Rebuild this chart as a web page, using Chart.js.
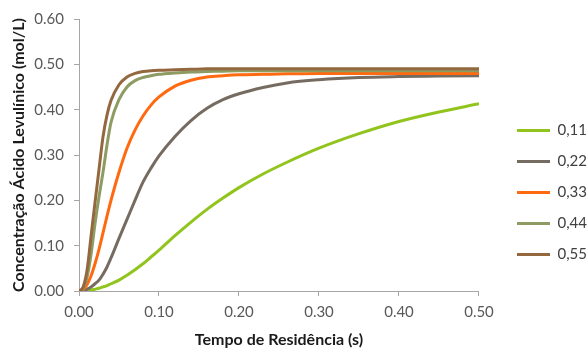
<!DOCTYPE html>
<html>
<head>
<meta charset="utf-8">
<script src="https://cdn.jsdelivr.net/npm/chart.js@4/dist/chart.umd.min.js"></script>
<style>
  html, body { margin: 0; padding: 0; background: #fff; }
  #wrap { width: 587px; height: 349px; position: relative; }
</style>
</head>
<body>
<div id="wrap"><canvas id="chart"></canvas></div>
<script>
// tempo de residência (s)
const tempo = [0, 0.005, 0.01, 0.015, 0.02, 0.025, 0.03, 0.035, 0.04, 0.05, 0.06, 0.07, 0.08, 0.09,
  0.10, 0.12, 0.14, 0.16, 0.18, 0.20, 0.23, 0.26, 0.30, 0.35, 0.40, 0.45, 0.50];

// concentração (mol/L) para cada série
const c011 = [0, 0.000, 0.001, 0.002, 0.004, 0.006, 0.009, 0.012, 0.016, 0.024, 0.035, 0.047, 0.060, 0.075,
  0.090, 0.122, 0.152, 0.180, 0.205, 0.228, 0.258, 0.284, 0.315, 0.347, 0.374, 0.395, 0.413];
const c022 = [0, 0.001, 0.004, 0.009, 0.016, 0.024, 0.037, 0.053, 0.073, 0.116, 0.158, 0.200, 0.240, 0.271,
  0.298, 0.341, 0.376, 0.403, 0.422, 0.435, 0.449, 0.459, 0.466, 0.471, 0.473, 0.474, 0.475];
const c033 = [0, 0.003, 0.014, 0.033, 0.060, 0.092, 0.128, 0.165, 0.200, 0.262, 0.315, 0.355, 0.386, 0.410,
  0.428, 0.452, 0.465, 0.472, 0.475, 0.477, 0.478, 0.479, 0.480, 0.480, 0.480, 0.480, 0.480];
const c044 = [0, 0.005, 0.030, 0.080, 0.148, 0.208, 0.262, 0.322, 0.372, 0.422, 0.450, 0.464, 0.471, 0.475,
  0.478, 0.481, 0.483, 0.484, 0.485, 0.486, 0.486, 0.486, 0.486, 0.486, 0.486, 0.486, 0.486];
const c055 = [0, 0.008, 0.045, 0.120, 0.195, 0.268, 0.340, 0.388, 0.420, 0.455, 0.472, 0.480, 0.484, 0.486,
  0.487, 0.488, 0.489, 0.490, 0.490, 0.490, 0.490, 0.490, 0.490, 0.490, 0.490, 0.490, 0.490];

const seriesNames = ["0,11", "0,22", "0,33", "0,44", "0,55"];
const seriesValues = [c011, c022, c033, c044, c055];
const colors = ["#92c41e", "#766b60", "#ff6a10", "#8e9b62", "#93683f"];

const font = "Lato, 'Open Sans', sans-serif";
const axisGray = "#a6a6a6";

const datasets = seriesNames.map((name, i) => ({
  label: name,
  data: tempo.map((t, j) => ({ x: t, y: seriesValues[i][j] })),
  borderColor: colors[i],
  backgroundColor: colors[i],
  borderWidth: 3,
  pointRadius: 0,
  cubicInterpolationMode: "monotone",
  order: seriesNames.length - i
}));

// legenda mais afastada do gráfico, como no original
const legendShift = {
  id: "legendShift",
  afterLayout(chart) {
    const lg = chart.legend;
    lg.left += 22;
    lg.right += 22;
    lg.top += 13;
    lg.bottom += 13;
  }
};

new Chart(document.getElementById("chart"), {
  type: "line",
  data: { datasets },
  plugins: [legendShift],
  options: {
    responsive: true,
    maintainAspectRatio: false,
    animation: false,
    layout: { padding: { left: 9, top: 10, right: 12, bottom: 0 } },
    plugins: {
      tooltip: { enabled: false },
      legend: {
        position: "right",
        labels: {
          boxWidth: 33,
          boxHeight: 3,
          padding: 16,
          color: "#404040",
          font: { family: font, size: 15 },
          generateLabels(chart) {
            const items = Chart.defaults.plugins.legend.labels.generateLabels(chart);
            items.sort((a, b) => a.datasetIndex - b.datasetIndex);
            items.forEach(it => { it.lineWidth = 0; it.fillStyle = it.strokeStyle; });
            return items;
          }
        }
      }
    },
    scales: {
      x: {
        type: "linear",
        min: 0,
        max: 0.5,
        afterFit: s => { s.height = 58; },
        ticks: {
          stepSize: 0.1,
          padding: 7,
          color: "#595959",
          font: { family: font, size: 15 },
          callback: v => v.toFixed(2)
        },
        grid: { drawOnChartArea: false, drawTicks: true, tickLength: 5, color: axisGray },
        border: { color: axisGray },
        title: {
          display: true,
          text: "Tempo de Residência (s)",
          color: "#1a1a1a",
          font: { family: font, size: 16, weight: "bold" },
          padding: { top: 0, bottom: 0 }
        }
      },
      y: {
        min: 0,
        max: 0.6,
        afterFit: s => { s.width = 70; },
        ticks: {
          stepSize: 0.1,
          padding: 10,
          color: "#595959",
          font: { family: font, size: 15 },
          callback: v => v.toFixed(2)
        },
        grid: { drawOnChartArea: false, drawTicks: true, tickLength: 5, color: axisGray },
        border: { color: axisGray },
        title: {
          display: true,
          text: "Concentração Ácido Levulínico (mol/L)",
          color: "#1a1a1a",
          font: { family: font, size: 16, weight: "bold" },
          padding: { top: 0, bottom: 0 }
        }
      }
    }
  }
});
</script>
</body>
</html>
